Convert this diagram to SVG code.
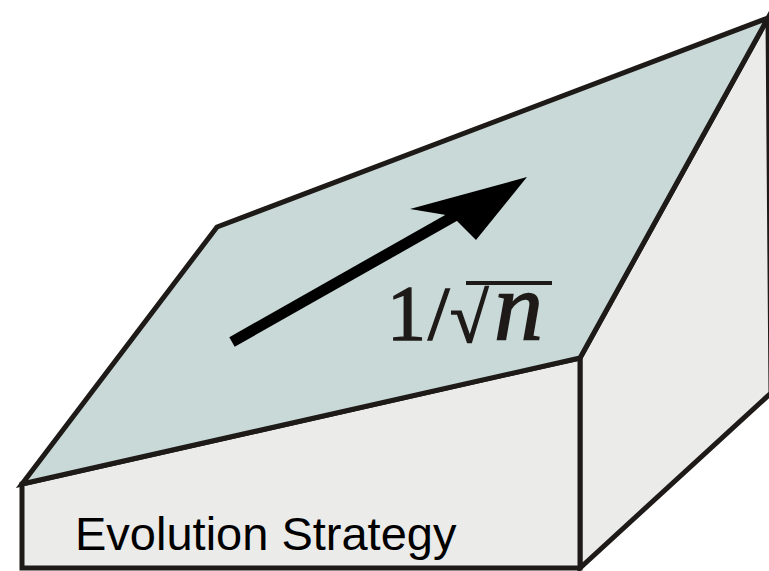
<svg xmlns="http://www.w3.org/2000/svg" width="769" height="571" viewBox="0 0 769 571">
  <style>
    .face { stroke: #1e1a18; stroke-width: 5; stroke-linejoin: miter; }
    .top { fill: #c8d9d8; }
    .side { fill: #ebebea; }
    .math { font-family: "Liberation Serif", "Times New Roman", serif; fill: #1e1a18; stroke: #1e1a18; stroke-width: 1.5; }
    .label { font-family: "Liberation Sans", Arial, sans-serif; font-size: 47px; fill: #000; }
  </style>
  <rect width="769" height="571" fill="#ffffff"/>
  <g id="box">
    <polygon id="right-face" class="face side" points="580,358 768,18 771,393 580,568"/>
    <polygon id="front-face" class="face side" points="22,484 580,358 580,568 22,568"/>
    <polygon id="top-face" class="face top" points="22,484 217,227 768,18 580,358"/>
  </g>
  <g id="connectors">
    <line x1="232" y1="342" x2="458" y2="214" stroke="#000" stroke-width="11"/>
    <polygon points="527,177 410,209 452,216 476,240" fill="#000"/>
  </g>
  <g id="rate-label">
    <text class="math" x="387" y="339" font-size="78">1</text>
    <text class="math" x="428" y="339" font-size="77">/</text>
    <text class="math" x="450" y="342" font-size="70" font-family="DejaVu Serif" stroke-width="2">√</text>
    <line x1="466" y1="283" x2="552" y2="283" stroke="#1e1a18" stroke-width="4"/>
    <text class="math" x="494" y="339" font-size="98" font-style="italic" stroke="none">n</text>
  </g>
  <g id="strategy-label">
    <text class="label" x="75" y="550">Evolution Strategy</text>
  </g>
</svg>
